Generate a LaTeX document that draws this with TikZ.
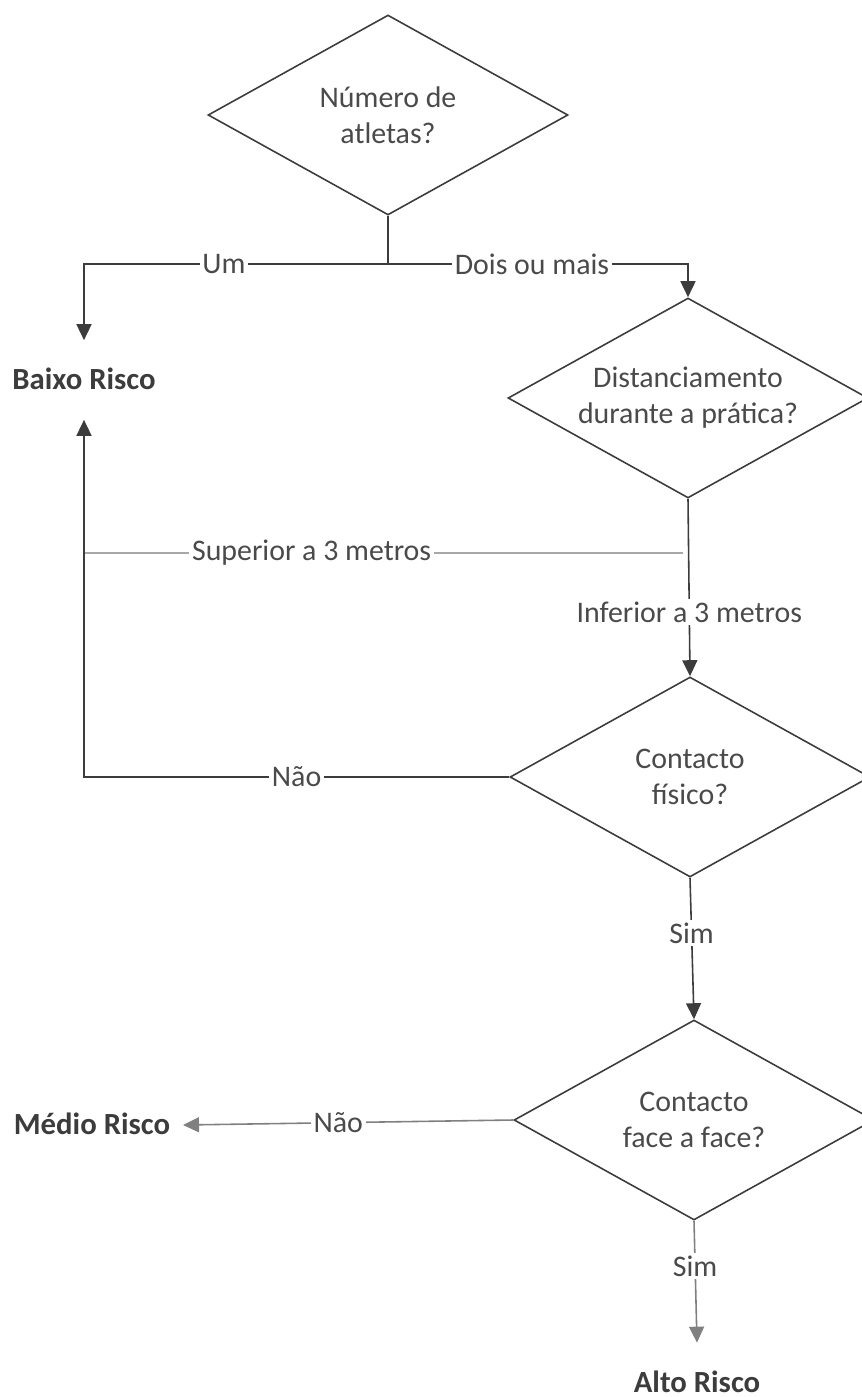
\documentclass[tikz,border=0pt]{standalone}
\usepackage{fontspec}
\setmainfont{Carlito}
\usetikzlibrary{shapes.geometric, arrows.meta}
\definecolor{linedark}{HTML}{3C3C3C}
\definecolor{linelight}{HTML}{A8A8A8}
\definecolor{textgray}{HTML}{4A4A4A}

\begin{document}
\begin{tikzpicture}[
    decision/.style={diamond, aspect=1.8, draw=linedark, line width=0.9pt, minimum width=7.2cm, minimum height=4cm, align=center, inner sep=0pt, text=textgray, font=\fontsize{17}{20.5}\selectfont},
    risk/.style={font=\fontsize{17.5}{20.5}\selectfont\bfseries, text=linedark, inner xsep=0.25cm, inner ysep=0.6cm, text height=0.38cm, text depth=0cm},
    flow/.style={->, draw=linedark, line width=0.9pt, >={Triangle[width=0.3cm, length=0.32cm]}},
    flowlabel/.style={font=\fontsize{17}{20.5}\selectfont, text=textgray, fill=white, inner sep=1.5pt}
]
    \clip (0,0) rectangle (17.24,-27.94);

    % Decisions
    \node[decision] (numero) at (7.76,-2.30) {Número de\\atletas?};
    \node[decision] (dist) at (13.76,-7.96) {Distanciamento\\durante a prática?};
    \node[decision] (contfis) at (13.80,-15.54) {Contacto\\físico?};
    \node[decision] (face) at (13.88,-22.40) {Contacto\\face a face?};

    % Outcomes
    \node[risk] (baixo) at (1.68,-7.60) {Baixo Risco};
    \node[risk, anchor=east] (medio) at (3.66,-22.50) {Médio Risco};
    \node[risk] (alto) at (13.94,-27.65) {Alto Risco};

    % Split points
    \coordinate (split) at (7.76,-5.28);
    \coordinate (sup) at (13.66,-11.06);

    % Number of athletes
    \draw[draw=linedark, line width=0.9pt] (numero.south) -- (split);
    \draw[flow] (split) -| (baixo.north) node[flowlabel, pos=0.27] {Um};
    \draw[flow] (split) -| (dist.north) node[flowlabel, pos=0.24] {Dois ou mais};

    % Distance
    \draw[flow] (dist.south) -- (contfis.north) node[flowlabel, pos=0.64] {Inferior a 3 metros};
    \draw[draw=linelight, line width=1.6pt] (sup) -- (sup -| baixo.south) node[flowlabel, pos=0.62] {Superior a 3 metros};

    % Physical contact
    \draw[flow] (contfis.west) -| (baixo.south) node[flowlabel, pos=0.25] {Não};
    \draw[flow] (contfis.south) -- (face.north) node[flowlabel, pos=0.39] {Sim};

    % Face to face
    \draw[flow, draw=gray] (face.west) -- (medio.east) node[flowlabel, pos=0.53] {Não};
    \draw[flow, draw=gray] (face.south) -- (alto.north) node[flowlabel, pos=0.37] {Sim};

\end{tikzpicture}
\end{document}
